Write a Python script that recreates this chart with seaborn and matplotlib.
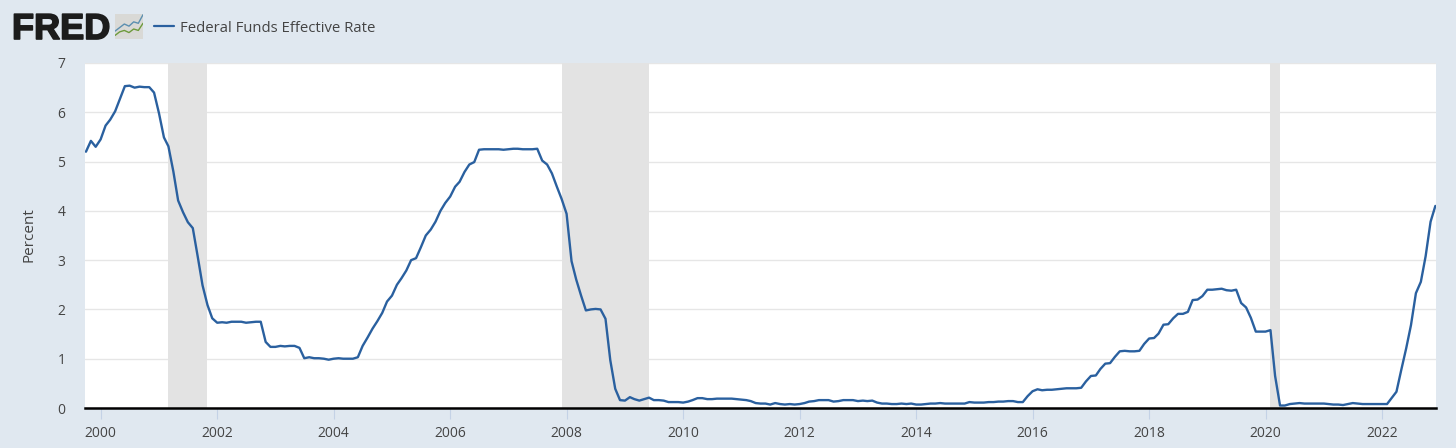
import pandas as pd
import matplotlib
matplotlib.use('Agg')
import matplotlib.pyplot as plt
import matplotlib.dates as mdates
import matplotlib.patheffects as pe
import seaborn as sns

# --- Data: monthly rate ---
RATE_1999 = [5.20, 5.42, 5.30]
RATE_2000 = [5.45, 5.73, 5.85, 6.02, 6.27, 6.53, 6.54, 6.50, 6.52, 6.51, 6.51, 6.40]
RATE_2001 = [5.98, 5.49, 5.31, 4.80, 4.21, 3.97, 3.77, 3.65, 3.07, 2.49, 2.09, 1.82]
RATE_2002 = [1.73, 1.74, 1.73, 1.75, 1.75, 1.75, 1.73, 1.74, 1.75, 1.75, 1.34, 1.24]
RATE_2003 = [1.24, 1.26, 1.25, 1.26, 1.26, 1.22, 1.01, 1.03, 1.01, 1.01, 1.00, 0.98]
RATE_2004 = [1.00, 1.01, 1.00, 1.00, 1.00, 1.03, 1.26, 1.43, 1.61, 1.76, 1.93, 2.16]
RATE_2005 = [2.28, 2.50, 2.63, 2.79, 3.00, 3.04, 3.26, 3.50, 3.62, 3.78, 4.00, 4.16]
RATE_2006 = [4.29, 4.49, 4.59, 4.79, 4.94, 4.99, 5.24, 5.25, 5.25, 5.25, 5.25, 5.24]
RATE_2007 = [5.25, 5.26, 5.26, 5.25, 5.25, 5.25, 5.26, 5.02, 4.94, 4.76, 4.49, 4.24]
RATE_2008 = [3.94, 2.98, 2.61, 2.28, 1.98, 2.00, 2.01, 2.00, 1.81, 0.97, 0.39, 0.16]
RATE_2009 = [0.15, 0.22, 0.18, 0.15, 0.18, 0.21, 0.16, 0.16, 0.15, 0.12, 0.12, 0.12]
RATE_2010 = [0.11, 0.13, 0.16, 0.20, 0.20, 0.18, 0.18, 0.19, 0.19, 0.19, 0.19, 0.18]
RATE_2011 = [0.17, 0.16, 0.14, 0.10, 0.09, 0.09, 0.07, 0.10, 0.08, 0.07, 0.08, 0.07]
RATE_2012 = [0.08, 0.10, 0.13, 0.14, 0.16, 0.16, 0.16, 0.13, 0.14, 0.16, 0.16, 0.16]
RATE_2013 = [0.14, 0.15, 0.14, 0.15, 0.11, 0.09, 0.09, 0.08, 0.08, 0.09, 0.08, 0.09]
RATE_2014 = [0.07, 0.07, 0.08, 0.09, 0.09, 0.10, 0.09, 0.09, 0.09, 0.09, 0.09, 0.12]
RATE_2015 = [0.11, 0.11, 0.11, 0.12, 0.12, 0.13, 0.13, 0.14, 0.14, 0.12, 0.12, 0.24]
RATE_2016 = [0.34, 0.38, 0.36, 0.37, 0.37, 0.38, 0.39, 0.40, 0.40, 0.40, 0.41, 0.54]
RATE_2017 = [0.65, 0.66, 0.79, 0.90, 0.91, 1.04, 1.15, 1.16, 1.15, 1.15, 1.16, 1.30]
RATE_2018 = [1.41, 1.42, 1.51, 1.69, 1.70, 1.82, 1.91, 1.91, 1.95, 2.19, 2.20, 2.27]
RATE_2019 = [2.40, 2.40, 2.41, 2.42, 2.39, 2.38, 2.40, 2.13, 2.04, 1.83, 1.55, 1.55]
RATE_2020 = [1.55, 1.58, 0.65, 0.05, 0.05, 0.08, 0.09, 0.10, 0.09, 0.09, 0.09, 0.09]
RATE_2021 = [0.09, 0.08, 0.07, 0.07, 0.06, 0.08, 0.10, 0.09, 0.08, 0.08, 0.08, 0.08]
RATE_2022 = [0.08, 0.08, 0.20, 0.33, 0.77, 1.21, 1.68, 2.33, 2.56, 3.08, 3.78, 4.10]

RECESSION_START = ['2001-03-01', '2007-12-01', '2020-02-01']
RECESSION_END = ['2001-11-01', '2009-06-01', '2020-04-01']

SERIES_NAME = 'Federal Funds Effective Rate'
Y_TICKS = [0, 1, 2, 3, 4, 5, 6, 7]

# logo sparkline
ICON_X = [0, 1, 2, 3, 4, 5, 6]
ICON_BLUE = [2.2, 3.2, 4.2, 3.6, 4.8, 4.4, 6.8]
ICON_GREEN = [1.0, 2.0, 2.4, 1.8, 2.8, 2.4, 4.4]

# --- Style ---
BG_COLOR = '#e0e8f0'
LINE_COLOR = '#2a609f'
TEXT_COLOR = '#444444'
W, H = 1456, 448

sns.set_theme(style="white")
plt.rcParams['font.family'] = ['Open Sans', 'DejaVu Sans']

rates = (RATE_1999 + RATE_2000 + RATE_2001 + RATE_2002 + RATE_2003 + RATE_2004
         + RATE_2005 + RATE_2006 + RATE_2007 + RATE_2008 + RATE_2009 + RATE_2010
         + RATE_2011 + RATE_2012 + RATE_2013 + RATE_2014 + RATE_2015 + RATE_2016
         + RATE_2017 + RATE_2018 + RATE_2019 + RATE_2020 + RATE_2021 + RATE_2022)
df = pd.DataFrame({'date': pd.date_range('1999-10-01', periods=len(rates), freq='MS'),
                   'rate': rates})

fig = plt.figure(figsize=(W / 100, H / 100), dpi=100, facecolor=BG_COLOR)
ax = fig.add_axes([85 / W, 1 - 408 / H, (1436 - 85) / W, (408 - 63) / H])
ax.set_facecolor('white')

ax.grid(axis='y', color='#e6e6e6', linewidth=1.0)
ax.set_axisbelow(True)
for start, end in zip(RECESSION_START, RECESSION_END):
    ax.axvspan(pd.Timestamp(start), pd.Timestamp(end), color='#e3e3e3', linewidth=0, zorder=1.5)

sns.lineplot(data=df, x='date', y='rate', color=LINE_COLOR, linewidth=1.7,
             ax=ax, legend=False, zorder=3, solid_joinstyle='round')

ax.set_xlim(pd.Timestamp('1999-09-25'), pd.Timestamp('2022-12-05'))
ax.set_ylim(0, 7)
ax.set_yticks(Y_TICKS)
ax.xaxis.set_major_locator(mdates.YearLocator(2))
ax.xaxis.set_major_formatter(mdates.DateFormatter('%Y'))
ax.tick_params(axis='y', length=0, pad=14, labelsize=10, labelcolor=TEXT_COLOR)
ax.tick_params(axis='x', length=8, width=0.8, color='#c4d2e6', pad=5,
               labelsize=10, labelcolor=TEXT_COLOR, bottom=True)
ax.set_xlabel('')
ax.set_ylabel('Percent', fontsize=11, color=TEXT_COLOR)
ax.yaxis.set_label_coords(37 / W, 1 - 235 / H, transform=fig.transFigure)

for side in ['top', 'left', 'right']:
    ax.spines[side].set_visible(False)
ax.spines['bottom'].set_color('black')
ax.spines['bottom'].set_linewidth(1.8)

# --- Header: logo and legend ---
logo = fig.text(12 / W, 1 - 39 / H, 'FRED', fontsize=26, fontweight='bold', color='#1c1c1c',
                family='Liberation Sans', va='baseline', ha='left')
logo.set_path_effects([pe.withStroke(linewidth=1.2, foreground='#1c1c1c')])

icon = fig.add_axes([115 / W, 1 - 39 / H, 28 / W, 25 / H])
icon.set_facecolor('#d9d9d6')
icon.set_xticks([])
icon.set_yticks([])
for side in icon.spines.values():
    side.set_visible(False)
icon.set_xlim(0, 6)
icon.set_ylim(0, 7)
icon.plot(ICON_X, ICON_BLUE, color='#5b8fb0', linewidth=1.0)
icon.plot(ICON_X, ICON_GREEN, color='#6d9a3c', linewidth=1.0)

fig.add_artist(plt.Line2D([154 / W, 174 / W], [1 - 26 / H, 1 - 26 / H], color=LINE_COLOR, linewidth=1.6))
fig.text(180 / W, 1 - 27 / H, SERIES_NAME, fontsize=10.7, color=TEXT_COLOR, va='center_baseline', ha='left')

fig.savefig('out.png', dpi=100, facecolor=BG_COLOR)
